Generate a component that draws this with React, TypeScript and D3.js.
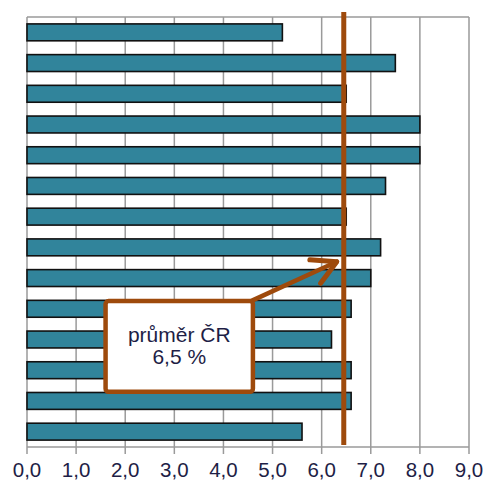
import React from "react";
import * as d3 from "d3";

const categories = ["1", "2", "3", "4", "5", "6", "7", "8", "9", "10", "11", "12", "13", "14"];
const values = [5.2, 7.5, 6.5, 8.0, 8.0, 7.3, 6.5, 7.2, 7.0, 6.6, 6.2, 6.6, 6.6, 5.6];
const xTicks = [0, 1, 2, 3, 4, 5, 6, 7, 8, 9];
const averageValue = 6.45;
const averageLabel = ["průměr ČR", "6,5 %"];

const W = 491;
const H = 485;
const left = 27;
const right = 469;
const top = 17;
const bottom = 447;

const ORANGE = "#9E4A0C";
const TEAL = "#31849B";
const GRID = "#9a9a9a";
const TEXT = "#1e1e46";
const FONT = "'Liberation Sans', Arial, sans-serif";

export default function App() {
  const x = d3.scaleLinear().domain([0, 9]).range([left, right]);
  const y = d3.scaleBand<string>().domain(categories).range([top, bottom]).paddingInner(0.45).paddingOuter(0.225);
  const step = y.step();
  const fmt = (v: number) => d3.format(".1f")(v).replace(".", ",");

  // annotation geometry derived from scales
  const bx0 = x(1.6);
  const bx1 = x(4.6);
  const by0 = top + step * 9.25;
  const by1 = top + step * 12.2;
  const tipX = x(averageValue) - 7;
  const tipY = top + step * 8 - 1;
  const startX = bx1 - 2;
  const startY = by0;
  const ang = Math.atan2(tipY - startY, tipX - startX);
  const headLen = 27;
  const spread = 0.5;
  const h1 = [tipX - headLen * Math.cos(ang - spread), tipY - headLen * Math.sin(ang - spread)];
  const h2 = [tipX - headLen * Math.cos(ang + spread), tipY - headLen * Math.sin(ang + spread)];

  return (
    <svg width={W} height={H} style={{ position: "absolute", left: 0, top: 0, background: "#fff" }}>
      {/* frame & gridlines */}
      <line x1={left} x2={right} y1={top} y2={top} stroke={GRID} strokeWidth={1.5} />
      <line x1={left} x2={left} y1={top} y2={bottom} stroke={GRID} strokeWidth={1.5} />
      <line x1={left} x2={right} y1={bottom} y2={bottom} stroke={GRID} strokeWidth={1.5} />
      {xTicks.map((t) => (
        <g key={t}>
          {t > 0 && <line x1={x(t)} x2={x(t)} y1={top} y2={bottom} stroke={GRID} strokeWidth={1.5} />}
          <line x1={x(t)} x2={x(t)} y1={bottom} y2={bottom + 7} stroke={GRID} strokeWidth={1.5} />
          <text x={x(t)} y={bottom + 30} textAnchor="middle" fontFamily={FONT} fontSize={20.5} fill={TEXT}>
            {fmt(t)}
          </text>
        </g>
      ))}
      {/* bars */}
      {categories.map((c, i) => (
        <rect
          key={c}
          x={x(0)}
          y={y(c)!}
          width={x(values[i]) - x(0)}
          height={y.bandwidth()}
          fill={TEAL}
          stroke="#111"
          strokeWidth={1.6}
        />
      ))}
      {/* average line */}
      <line x1={x(averageValue)} x2={x(averageValue)} y1={top - 5} y2={bottom - 2} stroke={ORANGE} strokeWidth={5} />
      {/* arrow */}
      <line x1={startX} y1={startY} x2={tipX} y2={tipY} stroke={ORANGE} strokeWidth={4.5} strokeLinecap="round" />
      <polyline
        points={`${h1[0]},${h1[1]} ${tipX},${tipY} ${h2[0]},${h2[1]}`}
        fill="none"
        stroke={ORANGE}
        strokeWidth={5}
        strokeLinecap="round"
        strokeLinejoin="round"
      />
      {/* label box */}
      <rect x={bx0} y={by0} width={bx1 - bx0} height={by1 - by0} rx={3} fill="#fff" stroke={ORANGE} strokeWidth={4.5} />
      <text x={(bx0 + bx1) / 2} y={by0 + 41} textAnchor="middle" fontFamily={FONT} fontSize={21} fill={TEXT}>
        {averageLabel[0]}
      </text>
      <text x={(bx0 + bx1) / 2} y={by0 + 63} textAnchor="middle" fontFamily={FONT} fontSize={21} fill={TEXT}>
        {averageLabel[1]}
      </text>
    </svg>
  );
}
